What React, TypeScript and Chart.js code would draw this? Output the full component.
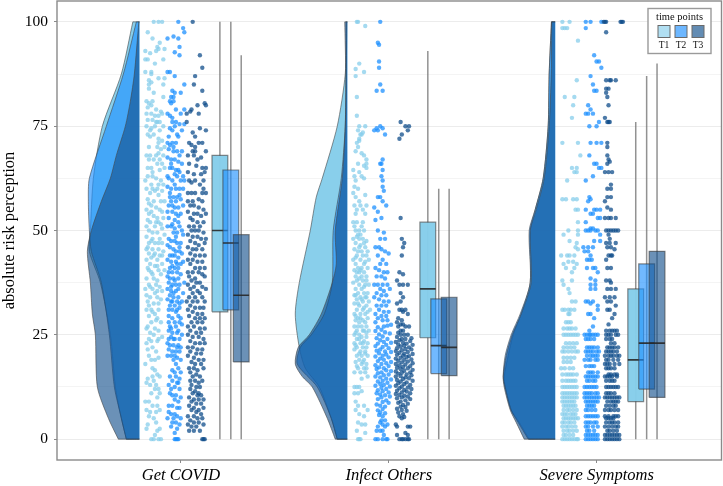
import React, { useEffect, useRef } from "react";
import { Chart, registerables } from "chart.js";
Chart.register(...registerables);

const categories = ["Get COVID", "Infect Others", "Severe Symptoms"];
const timeLabels = ["T1", "T2", "T3"];
const legendTitle = "time points";
const yMajorTicks = [0, 25, 50, 75, 100];
const yGridTicks = [0, 12.5, 25, 37.5, 50, 62.5, 75, 87.5, 100];

// box statistics: whisker low, q1, median, q3, whisker high
const covidBoxes = [[0, 30.5, 50, 68, 100], [0, 31, 47, 64.5, 100], [0, 18.5, 34.5, 49, 92]];
const infectBoxes = [[0, 24.3, 36, 52, 93], [0, 15.7, 22.4, 33.6, 60], [0, 15.2, 22, 34, 60]];
const severeBoxes = [[0, 9, 19, 36, 76], [0, 12, 23, 42, 87], [0, 10, 23, 45, 90]];

// densities: flat pairs of value, half-violin width
const covidDensT1 = [0,13,5,18,12.5,24,25,29,37.5,39,45,50,50,49,62.5,46,75,37,87.5,18,100,6.5];
const covidDensT2 = [0,13,5,18,12.5,25,25,30,37.5,38,45,48,50,50,57,51,62.5,50,75,33,87.5,16,100,3];
const covidDensT3 = [0,21,5,31,12.5,42,25,44,30,47,37.5,49,45,52,50,48,57,38,62.5,29,68,23,75,14,81,9,87.5,5,100,0.5];
const infectDensT1 = [0,10,5,16,12.5,28,17,42,22,48,30,52,37.5,48,50,37,58,31,62.5,25,75,10,87.5,2,100,1];
const infectDensT2 = [0,10,5,16,12.5,30,18,50,22,47,25,36,30,23,37.5,15,50,14,62.5,6,75,2,87.5,1,100,0.5];
const infectDensT3 = [0,12,5,20,12.5,35,15,45,18,52,22,49,25,38,30,26,37.5,15,42,11,50,12,62.5,5,75,2,87.5,1.5,100,2.5];
const severeDensT1 = [0,26,4,36,7,44,12.5,50,15,51,20,47,25,42,30,34,37.5,25,50,25,55,20,62.5,12,75,7,87.5,6,100,3.7];
const severeDensT2 = [0,27,4,37,7,44,12.5,50,15,52,20,50,25,44,30,35,37.5,25,50,26,55,20,62.5,12,75,7,87.5,6,100,3.7];
const severeDensT3 = [0,31,4,39,7,45,12.5,51,15,52,20,49,25,43,30,34,37.5,24,50,25,55,19,62.5,11,75,6,87.5,4,100,3.5];

// raw points: flat pairs of jitter, value
const covidT1 = [-1,100,3,100,6,100,-6,97.5,-2,96,4,95,2,94,3,93.5,1,93,-8,93,-4,92.5,8,93.5,-8,91,-6,91,0,90,7,91,-8,88,-3,88,-3,87.5,3,86.5,8,86.5,-5,86,-3,85.5,-5,85,7,85,-5,84,-1,83,7,82,-7,81,-2,81,-5,80.5,-3,80,-6,79.5,1,79,5,78.5,-7,78,-3,78,0,77.5,3,77.5,6,78,-6,76.5,-2,76.5,1,76,4,76,-7,75,-3,74.5,0,75,4,74,7,75,-6,73,-4,72.5,3,72,3,71,6,71.5,2,70,5,69.5,8,70,-7,68,-4,68,3,68.5,7,68,-5,67,-1,67,2,66,6,66,-6,65,-3,65,4,64.5,8,65,-6,63,-2,63,1,62.5,5,62,-3,61,3,61,7,61,-7,60,0,59.5,6,59.5,-4,59,3,58.5,-6,57.5,-1,57,5,57,8,57,-3,56,1,55.5,-7,55,4,55,-5,54,-1,53.5,2,53,7,53,-4,52,3,52,-7,51,0,51,6,50.5,-5,50,-2,49.5,2,49.5,8,49,-7,48.5,4,48,-3,47.5,0,47,6,47,-6,46,-2,45.5,3,45.5,7,45,-5,44.5,-1,44,4,44,-7,43,2,43,-4,42,6,42,0,41.5,-6,41,3,40.5,8,40.5,-3,40,-1,38.5,2,38,-5,37,4,36.5,-2,36,0,35,-7,34.5,-4,34,2,34,5,33.5,-6,33,-1,32.5,-7,31,-3,31,3,31,0,30,-5,29.5,2,29,-3,28,5,28,-6,27,0,26.5,3,26,-4,25.5,-1,25,6,24.5,-5,24,2,23.5,-7,23,-2,22,1,21,-5,20,-3,19,3,19.5,-8,18,-2,17,0,16.5,2,15.5,4,15,-6,14.5,-1,14,1,13,-4,13,0,12,3,12,-3,11,4,11,-8,9,-5,9,-2,8,2,8,-7,7,1,6.5,4,7,-5,5.5,-1,5,1,4,-6,3.5,-7,2.5,2,2,4,2.5,0,1,-3,0,-1,0,3,0,5,0];
const covidT1More = [-4,74,-1,73,2,76,-5,70,1,68,-2,64,4,67,-8,62,-2,60,2,60,-5,56.5,6,54.5,-3,54.5,-6,52.5,1,52,5,51.5,-2,48,-5,47,3,47,-7,45.5,0,44.5,6,44,-3,43.5,2,41.5,-5,40.5,5,39.5,-2,39.5,-7,38.5,1,37,-4,36.5,-8,36,6,35.5,2,35.5,-5,32,3,32.5,-2,30.5,1,28.5,-7,26.5,3,24,-3,23.5,-6,21.5,0,19,-2,15,-7,13.5,2,10,-4,6.5];
const covidT2 = [2,100,6,98.5,7,97.5,-7,96,-2,96.5,2,96,3,94,-1,92.7,3,92,-7,88,-5,88,-1,87,7,85,-3,83.5,-1,83,-2,82,-4,82,-5,81,4,83,-2,81,-4,80.5,0,79,-7,78,-5,77.5,-3,77,4,78,7,79,-3,76,0,76,3,75.5,-1,75,-5,74.5,-3,74,7,75.5,5,74,2,72.5,-7,71,-5,70.5,-3,71,0,71,-6,69.5,-2,69,1,69,3,68,-7,67.5,-4,67,-1,67,2,66.5,5,66,-5,65,-3,65,0,64.5,3,64,-1,63.5,1,63,-6,62.5,-3,62,4,62,7,62,-7,60.5,-4,60,0,60,3,60,6,60,-5,58,-2,58,1,58,-4,57,0,57,4,57.5,-6,56,-1,55.5,2,55.5,-3,54.5,0,54,4,54,-6,53,-1,52.5,2,52,-7,51,-4,51,-1,50.5,3,51,-2,49.5,1,49.5,6,49,-6,48,-4,47.5,-1,47.5,1,47,4,47,-5,46,-2,45.5,0,45,3,45,-5,44,-1,44,2,43.5,-7,43,-4,42.5,0,42.5,4,42,6,42.5,-3,41.5,-1,41,2,41,-6,40,-3,40,1,40,-7,39,-5,38.5,-2,38.5,2,38.5,-6,37.5,-3,37,0,37,3,37,7,37.5,-7,36,-4,35.5,0,35.5,-5,34.5,-2,34,2,34,-4,33,1,33,5,33,-5,32,-1,32,3,31.5,-3,31,0,30.5,-6,29.5,-3,29,2,29.5,-6,28,3,28,-5,27,0,27,5,27.5,-6,26,-3,25.5,1,25.5,5,25,-4,24.5,-1,24,3,24,-7,23,-5,22.5,-2,22.5,1,22,4,22,-6,21.5,-3,21,0,21,3,21,-7,20,-1,20,1,19.5,4,19,0,18,2,17,-3,16.5,-1,16,4,16,-5,15,0,15,3,14.5,-3,14,1,13.5,-6,13,-1,12.5,3,12,-5,11,-3,10.5,0,10.5,4,10,-1,9.5,2,9,-6,8,-3,8,1,7.5,3,7.5,-6,6.5,-4,6,-1,6,1,5.5,-7,5,-2,5,4,5,-3,4,0,4,3,3.5,-4,3,1,2.5,-1,1.5,0,0,2,0,-1,0,1,0];
const covidT2More = [-6,72.5,1,73,-2,70,5,69,-4,66,2,64.5,-7,63,6,63,-1,61,-5,59,3,58.5,-3,56,6,56,-7,54.5,2,53.5,-3,51.5,5,50,0,48.5,-7,46.5,3,46,-3,44,5,44.5,1,42,-5,41,4,39.5,-1,38,-4,36.5,2,36,6,35,-2,35,-7,33.5,3,32.5,-3,33,-6,31,1,31,4,29,-1,28,-4,26.5,2,26,-2,24,-6,24,2,22.5,-4,20,-2,19,2,13.5,-4,12];
const covidT3 = [-3,100,3,92,5,89,-1,87,-2,85,5,83.5,7,80.5,8,80,1,80,-4,79,-5,78.5,-8,78,2,78,-8,76,3,74.5,-3,73.5,8,74,-1,72.5,-6,71,-4,70.5,-1,70,2,71,5,71,-3,69,-1,69,8,69,-7,68,-2,68,1,67,4,67.5,-6,66,0,65.5,5,65,8,65,-7,64,-2,63.5,4,63.5,7,64,-6,62,-1,62,6,62,-4,61.5,3,61,6,60,-7,59,-4,59,-1,59,5,59,8,59,-7,57,-3,57,2,57.5,5,57,-5,56,-2,56,2,55.5,6,55,-7,54.5,-2,54,1,54,4,53.5,8,54,-5,53,-3,52.5,1,52,6,52,-6,51,-2,51,3,51,-4,50,-1,50,2,50,6,49.5,-7,49,-3,48.5,1,48.5,4,48,8,48,-5,47.5,-1,47,2,46.5,7,47,-7,46,-3,45.5,0,45.5,5,45.5,-5,44.5,-1,44,3,44,7,44,-7,43,-3,43,1,42.5,5,42.5,-5,42,-1,41,3,41,7,41,-7,40,-3,40,2,40,5,39.5,-6,39,-1,38.5,7,39,-4,38,0,37.5,3,37.5,-7,37,-2,36.5,5,36.5,-5,36,1,35.5,8,36,-3,35,3,35,-6,34,-1,34,5,34,-8,33,-3,33,1,33,7,33,-5,32,-1,31.5,3,31.5,6,31.5,-7,31,-3,30.5,1,30,5,30,-6,29.5,-1,29,3,29,7,29,-4,28,1,28,5,28,-7,27,-2,27,3,26.5,7,26.5,-5,26,0,25.5,4,25.5,-7,25,-3,24.5,2,24.5,6,24,-5,23.5,-1,23,3,23,7,23,-7,22,-3,22,1,21.5,5,21.5,-5,21,0,20.5,4,20.5,-7,20,-2,19.5,2,19,6,19,-4,18.5,-1,18,4,18,-6,17,-2,17,1,16.5,6,17,-5,16,0,15.5,3,15,-3,15,-5,14,-1,14,2,13.5,5,14,-4,13,0,12.5,3,12.5,-5,12,-1,11.5,2,11,-3,11,1,10.5,4,10.5,-6,10,-2,9.5,2,9.5,6,9.5,-4,9,0,8.5,4,8.5,-6,8,-2,7.5,2,7,6,7.5,-4,7,0,6.5,4,6,-7,5.5,-2,5.5,1,5,5,5,-5,4.5,-2,4,2,4,-7,3.5,-4,3,0,3,6,3.5,-6,2,-2,2,3,2,5,0,7,0,6,0];
const infectT1 = [-5,100,-4,100,2,99,-3,90,-6,88.7,1,88,-6,87,-5,82,-5,77.5,-3,75,2,75,-4,74,-2,73,-1,73,0,73.5,-3,72,-3,71.5,-5,71,-4,70,-6,69,-1,68.5,1,68,3,67,3,66,-4,66,1,65.5,3,65,-8,64.5,-3,64,-1,63,-7,63,1,62.5,-6,62,-7,60.5,-4,60,-8,59,2,58.5,-6,58,-3,57,-7,56,-2,56,3,56,-5,55,0,55,2,54,-6,54,-8,52,-5,52,0,52,-1,51,-7,51,-6,50,-3,50,1,50,-4,49,-2,49,-8,48,-3,48,0,48,3,47.5,-6,47,-2,46.5,2,46,-7,45.5,-4,45,-1,45,4,45,-5,44,0,44,3,44,-2,43,-8,43,2,42.5,-6,42,-4,41,-1,41,4,41,-7,40.5,-3,40,1,40,-6,39,-1,39,3,39,-5,38,0,38,-8,37.5,-3,37,2,37,5,37,-6,36,-1,36,-4,35,1,35,4,35,-7,34.5,-2,34,2,34,-5,33.5,0,33,5,33,-7,32.5,-3,32,3,32,-5,31,0,31,6,31,-7,30,-2,30,2,30,-4,29,4,29,-6,28.5,0,28.5,-3,28,-7,27,-1,27,3,27,-5,26,1,26,5,26,-3,25,-7,25,-1,24.5,3,24.5,-5,24,1,23.5,-7,23,-2,23,-5,22,0,22,3,22,-7,21.5,-2,21,2,21,-5,20,-1,20,4,20,-3,19,1,19,-6,18.5,-1,18,3,18,-4,17,1,17,-7,16,-2,16,2,16,4,15,-1,14.5,-7,12.5,-5,12.5,-3,12.5,-7,11,-4,11,-1,11.5,-6,9,-4,8,1,8,-6,7,4,7,-3,6,1,5.5,-4,4,-1,3.5,2,3.5,-5,2,2,1.5,-3,0,-2,0,-4,0];
const infectT1More = [-5,48.5,1,47,-3,46,5,43,-6,43.5,1,42,-2,40.5,-5,40,3,38,-3,38.5,1,36.5,-6,34.5,3,34,-1,33.5,-4,32.5,1,31.5,4,30.5,-6,29.5,-2,29,2,28,-4,27,0,26,-6,25.5,3,25.5,-3,24,0,23,4,23,-6,22.5,2,20.5,-3,20.5,0,18.5,-5,17.5,3,17];
const infectT2 = [-3,100,-5,95,-4,94.5,-4,90.5,-4,89,-3,85,-6,83.5,-1,83.5,-3,75,-1,74.5,-6,74.5,-5,74,-8,74,1,73,-1,67,-2,66,-1,64.5,-3,66,-2,63,-1,62,-1,60.5,0,59.5,-3,58,-1,57,-5,58,2,56,-8,55.5,-5,54.5,-2,53,-7,52.5,-5,50,0,49.5,-3,48,1,48,-7,46,-4,46,-2,45.5,1,45,4,44.5,-5,44,-1,43,-3,42,2,42,-7,41,-4,40.5,0,40,3,40,-6,39,-2,39,1,38.5,-8,37,-5,37,-1,37,3,37,-3,36,0,35.5,5,36,-6,35,-2,34.5,2,34.5,-8,34,-4,33.5,0,33,4,33,-6,32,-2,32,2,32,-4,31,0,30.5,4,30.5,-7,30,-2,29.5,2,29.5,-5,29,-1,28.5,3,28.5,-7,28,3,27.2,-5,26.8,0,27,6,27.4,-2,26.2,-7,25.9,1,25.6,-4,25.1,5,25.3,-1,24.6,-6,24.2,3,24,-3,23.7,0,23.3,6,23.1,-5,22.9,2,22.6,-7,22.3,-1,22.1,4,21.8,-3,21.5,-6,21.2,1,21,6,20.9,-4,20.6,2,20.3,-1,20,-7,19.8,4,19.6,-3,19.3,0,19,-5,18.7,6,18.5,2,18.2,-2,18,-7,17.7,4,17.5,-4,17.2,0,17,-6,16.8,2,16.5,6,16.3,-2,16,-5,15.8,4,15.5,0,15.3,-7,15,-3,14.8,2,14.5,6,14.3,-1,14,-5,13.8,3,13.5,-3,13.2,0,13,-7,12.8,5,12.6,-2,12.3,2,12,-5,11.7,-1,11.5,4,11.2,-6,11,-3,10.7,1,10.5,5,10.2,-2,10,-5,9.6,2,9.3,-1,8.9,4,8.7,-6,8.3,-3,8,1,7.8,-1,7.2,-5,6.9,-3,6.4,1,6.2,-4,5.8,-1,5.5,-2,4.5,1,4.5,-3,4,-1,3.5,3,3.5,-5,3,1,3,-6,2,-3,2,-1,2,0,1,-7,0,-5,0,-1,0,2,0,3,0];
const infectT3 = [-3,76,1,75,3,74,-4,72,-2,73,4,75,-3,53,-2,48,0,47,-1,46,-2,44,-4,40,-1,39.5,-6,38,-4,37,-1,37,3,37,-3,35,-1,34,-3,33,-6,32.5,-4,31,-2,31,-1,30.5,1,31,3,30,-5,29,-2,28.5,-6,28,-3,27.5,-1,27.5,1,27,-5,27,4,27,-3,26,-1,26,-5,25.5,-3,25,0,25,3,25,-6,24.5,-2,24,1,24,6,24.2,-4,23.7,5,23.5,-7,23.3,-1,23.1,2,22.9,-5,22.7,7,22.6,0,22.4,-3,22.2,4,22,-6,21.8,1,21.6,6,21.5,-2,21.3,-7,21.1,3,20.9,-4,20.7,0,20.5,7,20.4,-6,20.2,-1,20,4,19.9,2,19.7,-3,19.5,-7,19.3,6,19.1,0,19,-5,18.8,3,18.6,-2,18.4,7,18.2,-7,18,1,17.9,-4,17.7,5,17.5,-1,17.3,-6,17.1,3,17,-3,16.8,7,16.6,0,16.4,-7,16.2,5,16,-2,15.9,-5,15.7,2,15.5,6,15.3,-3,15.1,-7,15,1,14.8,4,14.6,-1,14.4,-6,14.2,7,14,-3,13.8,2,13.6,-5,13.4,0,13.2,5,13,-7,12.8,-2,12.6,3,12.4,-4,12.2,6,12,0,11.8,-6,11.6,2,11.4,-2,11.2,5,11,-7,10.8,-4,10.6,0,10.4,3,10.2,-2,10,-6,9.8,5,9.6,1,9.3,-3,9,-5,8.7,3,8.5,-1,8.2,-3,7.8,1,7.7,-6,7.3,-2,7,2,6.8,-5,6.4,-1,6,-4,5.5,0,5.3,-2,5,-7,3.5,-6,3,3,3,5,3,1,1.5,-6,1,3,1,-4,0,-2,0,-1,0,1,0,3,0,4,0];
const severeT1 = [-7,100,-1,100,-7,98.5,-5,98.5,-3,98.5,6,95.5,5,86,-5,82,3,82,2,80,1,77,-7,71,6,71,8,68,1,65,5,65,3,64,5,64,-3,62,-7,57.5,-4,57.5,2,57.5,5,57.5,4,55,6,55,6,52,-2,50,6,50,-6,49,6,49,-1,47.5,5,47,4,46,6,45.5,-8,44,-3,44,-1,44,3,44,-2,42.5,2,42.5,-6,42,5,42,-4,41,3,41,1,40,-7,38,1,38,-6,37,-2,36,-1,35,1,33,4,33,-7,31,-5,31,-2,31,0,31,3,31,-2,30,-1,30,-4,28,-2,28,0,28,-6,26.5,-3,26.5,-1,26.5,1,26.5,4,26.5,-6,25,-4,25,-2,25,0,25,2,25,4,25,6,25,-4,23,-1,23,2,23,5,23,-6,22,-3,22,0,22,3,22,-7,21,-5,21,-2,21,1,21,4,21,6,21,-6,19.5,-3,19.5,0,19.5,3,19.5,-6,18.5,-3,18.5,0,18.5,-8,17,-5,17,-1,17,2,17,-7,15.5,-4,15.5,-2,15.5,0,15.5,2,15.5,5,15.5,-7,14,-4,14,-2,14,0,14,2,14,4,14,-7,12.5,-5,12.5,-3,12.5,-1,12.5,1,12.5,3,12.5,5,12.5,-7,11,-5,11,-3,11,-1,11,1,11,3,11,5,11,-7,10,-5,10,-3,10,-1,10,1,10,3,10,5,10,-7,9,-5,9,-3,9,-1,9,1,9,3,9,-6,8,-4,8,-2,8,0,8,2,8,4,8,-6,7,-3,7,-1,7,2,7,5,7,-7,6,-5,6,-3,6,0,6,2,6,4,6,-6,5,-4,5,-2,5,0,5,2,5,4,5,6,5,-7,4,-5,4,-2,4,0,4,3,4,-7,3,-4,3,-2,3,1,3,4,3,-6,2,-3,2,-1,2,2,2,5,2,-6,1,-4,1,-1,1,2,1,-7,0,-5,0,-3,0,-1,0,1,0,3,0,5,0,6,0];
const severeT2 = [-5,100,-1,100,8,100,-5,98.5,2,92,4,90.5,6,90.5,8,89,-1,87,1,85,2,83.5,4,83.5,-3,80,-1,79,-5,78,-3,78,1,78,6,76,-2,75,4,75,4,71,8,71,-1,71,-2,68,2,66,4,66,6,65,8,65,1,63,-5,62,-2,58,-1,57.5,-3,57,-5,55,2,55,4,55,7,55,-1,54,1,54,5,53,7,53,-5,52,-1,50.5,1,50.5,-5,50,-3,50,-1,50,3,50,5,50,7,49,2,47.5,7,47.5,-7,46,-3,46,1,46,-6,45,-3,45,-1,44,-4,43,-2,43,0,43,-4,41,1,41,3,41,5,40,-1,38.5,3,38,-1,37,3,37,-1,36,3,36,-5,33,-3,33,-1,32.5,1,33,5,32,5,31,-3,30,-1,30,2,29,1,27,-2,26,-2,25,-6,25,-4,25,-1,25,1,25,3,25,5,25,-5,24,-3,24,-1,24,2,24,-4,22,-2,22,0,22,2,22,5,22,-5,21,-3,21,-1,21,1,21,4,21,6,21,-4,20,-1,20,1,20,3,20,5,20,-6,19,-3,19,-1,19,3,19,5,19,-5,17.5,-2,17.5,0,17.5,2,17.5,-3,16,-1,16,1,16,5,16,-5,15,-3,15,-1,15,1,15,3,15,5,15,-4,14,-2,14,1,14,3,14,-6,12.5,-4,12.5,-2,12.5,0,12.5,2,12.5,4,12.5,-6,11,-4,11,-2,11,0,11,3,11,5,11,-6,10,-4,10,-2,10,0,10,2,10,4,10,6,10,-5,9,-3,9,-1,9,1,9,3,9,5,9,-4,8,-2,8,0,8,2,8,-5,7,-3,7,0,7,3,7,-5,5.5,-3,5.5,-1,5.5,1,5.5,3,5.5,5,5.5,-5,4,-3,4,-1,4,2,4,4,4,-5,3,-3,3,1,3,5,3,-4,2,-2,2,2,2,-5,1,-3,1,-1,1,1,1,3,1,5,1,-5,0,-3,0,-1,0,1,0,3,0,5,0];
const severeT3 = [-7,100,-6,100,-5,100,7,100,8,100,9,100,-5,97.5,-5,86,-2,86,-1,86,3,86,-5,84,-3,84,-5,83,-4,82,-3,80,-6,77,-4,76,-3,76,-2,76,-4,71,-4,70,-4,68,-3,67,-2,66.5,-4,66,-3,64,-6,64,0,64,-1,61,-4,60,-1,60,-4,58,-1,58,-6,57,-4,55.5,-1,55,-6,53,-3,53,-1,53,3,53,-5,50,-3,50,-1,50,1,50,3,50,5,50,-3,49,-2,48,-5,47,-2,47,3,47,-4,46,-1,46,2,45.5,-3,44,-1,44,0,44,-5,43,-4,41,-1,41,-2,38,-5,38,-1,37.5,-4,36,-1,36,3,36,-6,34,-2,34,2,34,-4,33,-1,33,3,32,-4,31,-2,31,2,30,0,29,-3,27.5,-5,26,-2,26,0,26,2,26,4,26,-5,25,-3,25,-1,25,3,25,5,25,-5,24,-2,24,0,24,-1,23,2,23,-4,22,-2,22,0,22,2,22,5,22,-5,21,-3,21,-1,21,1,21,4,21,-6,20,-3,20,-1,20,1,20,4,20,6,20,-5,19,-3,19,1,19,5,19,-6,18,-4,18,-2,18,2,18,6,18,-5,17,-3,17,-1,17,2,17,-3,15.5,-1,15.5,2,15.5,4,15.5,-6,15,-4,15,-2,15,0,15,4,15,-5,14,-2,14,0,14,2,14,-5,12.5,-3,12.5,-1,12.5,1,12.5,3,12.5,5,12.5,-5,11,-3,11,-1,11,2,11,-6,10,-4,10,-2,10,0,10,2,10,4,10,6,10,-4,9,-1,9,1,9,3,9,5,9,-5,8,-2,8,1,8,3,8,-6,7,-3,7,-1,7,2,7,5,7,-6,5.5,-3,5.5,1,5.5,3,5.5,5,5.5,-5,5,-3,5,-1,5,1,5,-5,4,-2,4,0,4,2,4,5,4,-6,3,-3,3,0,3,3,3,5,3,-4,2,-2,2,1,2,4,2,-6,1,-4,1,-2,1,0,1,2,1,4,1,6,1,-6,0,-4,0,-2,0,0,0,2,0,4,0,6,0];

const seriesPoints = [
  [[...covidT1, ...covidT1More], [...covidT2, ...covidT2More], covidT3],
  [[...infectT1, ...infectT1More], infectT2, infectT3],
  [severeT1, severeT2, severeT3],
];
const seriesDens = [[covidDensT1, covidDensT2, covidDensT3], [infectDensT1, infectDensT2, infectDensT3], [severeDensT1, severeDensT2, severeDensT3]];
const seriesBoxes = [covidBoxes, infectBoxes, severeBoxes];

const violinFill = ["rgba(135,206,235,0.98)", "rgba(30,144,255,0.65)", "rgba(16,78,139,0.62)"];
const boxFill = ["rgba(135,206,235,0.98)", "rgba(30,144,255,0.63)", "rgba(16,78,139,0.62)"];
const pointFill = ["rgba(135,206,235,0.75)", "rgba(30,144,255,0.75)", "rgba(16,78,139,0.75)"];
const legendFill = ["rgba(135,206,235,0.65)", "rgba(30,144,255,0.65)", "rgba(16,78,139,0.65)"];

const pairs = (flat: number[]) => {
  const out: number[][] = [];
  for (let i = 0; i < flat.length; i += 2) out.push([flat[i], flat[i + 1]]);
  return out;
};

const PX = 1 / 208; // x-axis units per density unit
const JITTER = 1.2 / 208; // x-axis units per jitter unit
const violinBase = -0.2;
const pointCentre = [-0.125, -0.024, 0.074];
const boxCentre = [0.1875, 0.24, 0.29];
const boxHalf = 0.038;

function buildDatasets() {
  const sets: any[] = [];
  const line = (data: any[], extra: any) => sets.push({ data, showLine: true, pointRadius: 0, borderWidth: 1, ...extra });
  seriesDens.forEach((group, g) => {
    const c = g + 1 + violinBase;
    group.forEach((d, t) => {
      const outline = pairs(d).map(([y, w]) => ({ x: c - w * PX, y }));
      const first = outline[0];
      const last = outline[outline.length - 1];
      const data = [{ x: c, y: 0 }, { x: c, y: 0 }, first, ...outline, last, { x: c, y: 100 }, { x: c, y: 100 }];
      line(data, { fill: "shape", backgroundColor: violinFill[t], borderColor: "rgba(70,70,70,0.6)", tension: 0.25 });
    });
  });
  seriesPoints.forEach((group, g) => {
    group.forEach((p, t) => {
      const c = g + 1 + pointCentre[t];
      sets.push({
        data: pairs(p).map(([j, y]) => ({ x: c + j * JITTER, y })),
        pointRadius: 2.2,
        pointBorderWidth: 0,
        pointBackgroundColor: pointFill[t],
        showLine: false,
      });
    });
  });
  seriesBoxes.forEach((group, g) => {
    group.forEach((b, t) => {
      const c = g + 1 + boxCentre[t];
      line([{ x: c, y: b[0] }, { x: c, y: b[4] }], { borderColor: "rgba(110,110,110,0.75)", borderWidth: 1.5 });
    });
    group.forEach((b, t) => {
      const c = g + 1 + boxCentre[t];
      const l = c - boxHalf, r = c + boxHalf;
      line(
        [{ x: l, y: b[1] }, { x: r, y: b[1] }, { x: r, y: b[3] }, { x: l, y: b[3] }, { x: l, y: b[1] }],
        { fill: "shape", backgroundColor: boxFill[t], borderColor: "rgba(60,60,60,0.6)", borderWidth: 1.2 }
      );
      line([{ x: l, y: b[2] }, { x: r, y: b[2] }], { borderColor: "rgba(40,40,40,0.9)", borderWidth: 1.6 });
    });
  });
  sets.forEach((s, i) => (s.order = sets.length - i));
  return sets;
}

const framePlugin = {
  id: "frame",
  afterDraw(chart: any) {
    const { ctx, chartArea: a } = chart;
    ctx.save();
    ctx.strokeStyle = "#8a8a8a";
    ctx.lineWidth = 1.4;
    ctx.strokeRect(a.left, a.top, a.right - a.left, a.bottom - a.top);
    const x0 = a.right - 73.5, y0 = a.top + 7.5;
    ctx.fillStyle = "#fff";
    ctx.strokeStyle = "#9a9a9a";
    ctx.lineWidth = 1.4;
    ctx.fillRect(x0, y0, 63, 45);
    ctx.strokeRect(x0, y0, 63, 45);
    ctx.fillStyle = "#111";
    ctx.textAlign = "center";
    ctx.textBaseline = "middle";
    ctx.font = "10.5px 'Liberation Serif'";
    ctx.fillText(legendTitle, x0 + 31.5, y0 + 9);
    ctx.font = "9.5px 'Liberation Serif'";
    timeLabels.forEach((lab, i) => {
      const kx = x0 + 10 + i * 17;
      ctx.fillStyle = legendFill[i];
      ctx.fillRect(kx, y0 + 17, 12, 12);
      ctx.strokeStyle = "#6a6a6a";
      ctx.lineWidth = 1;
      ctx.strokeRect(kx, y0 + 17, 12, 12);
      ctx.fillStyle = "#111";
      ctx.fillText(lab, kx + 6, y0 + 37);
    });
    ctx.restore();
  },
};

export default function App() {
  const ref = useRef<HTMLCanvasElement>(null);
  useEffect(() => {
    document.body.style.margin = "0";
    const chart = new Chart(ref.current as HTMLCanvasElement, {
      type: "scatter",
      data: { datasets: buildDatasets() },
      plugins: [framePlugin],
      options: {
        animation: false,
        responsive: false,
        events: [],
        layout: { autoPadding: false, padding: { top: 1, right: 1.5, left: 0, bottom: 0 } },
        plugins: { legend: { display: false }, tooltip: { enabled: false } },
        scales: {
          x: {
            type: "linear",
            min: 0.404,
            max: 3.6,
            afterFit: (s: any) => { s.height = 26; s.paddingLeft = 0; s.paddingRight = 0; },
            afterBuildTicks: (s: any) => { s.ticks = categories.map((_, i) => ({ value: i + 1 })); },
            grid: { display: true, drawOnChartArea: false, tickLength: 3, tickColor: "#8a8a8a" },
            border: { display: false },
            ticks: {
              autoSkip: false,
              maxRotation: 0,
              padding: 3,
              color: "#000",
              font: { family: "'Liberation Serif'", size: 16.5, style: "italic" },
              callback: (v: any) => categories[Number(v) - 1],
            },
          },
          y: {
            type: "linear",
            min: -5,
            max: 105,
            afterFit: (s: any) => { s.width = 57; s.paddingTop = 0; s.paddingBottom = 0; },
            afterBuildTicks: (s: any) => { s.ticks = yGridTicks.map((value) => ({ value })); },
            grid: {
              tickLength: 3,
              tickColor: (c: any) => (c.tick && yMajorTicks.includes(c.tick.value) ? "#8a8a8a" : "rgba(0,0,0,0)"),
              color: (c: any) => (c.tick && yMajorTicks.includes(c.tick.value) ? "#ececec" : "#f4f4f4"),
            },
            border: { display: false },
            title: {
              display: true,
              text: "absolute risk perception",
              color: "#000",
              font: { family: "'Liberation Serif'", size: 16.5 },
              padding: { top: 0, bottom: 0 },
            },
            ticks: {
              autoSkip: false,
              padding: 6,
              color: "#000",
              font: { family: "'Liberation Serif'", size: 15.5 },
              callback: (v: any) => (yMajorTicks.includes(Number(v)) ? String(v) : ""),
            },
          },
        },
      },
    } as any);
    return () => chart.destroy();
  }, []);
  return <canvas ref={ref} width={723} height={486} style={{ display: "block" }} />;
}
